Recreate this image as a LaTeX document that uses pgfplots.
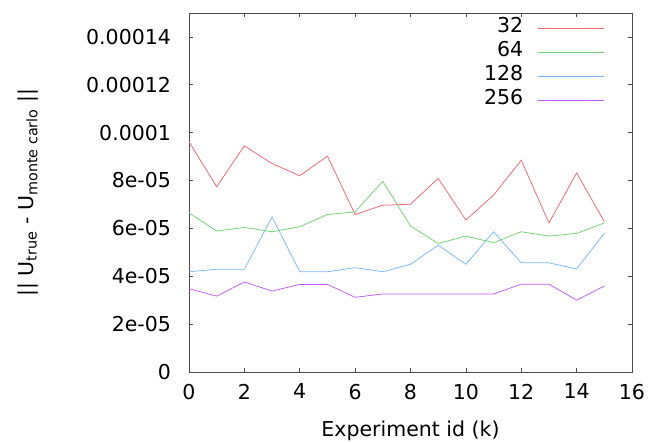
\documentclass[border=0pt]{standalone}
\usepackage{fontspec}
\setmainfont{DejaVu Sans}
\usepackage{pgfplots}
\pgfplotsset{compat=1.18}
\definecolor{c32}{RGB}{245,100,110}
\definecolor{c64}{RGB}{110,210,110}
\definecolor{c128}{RGB}{120,185,250}
\definecolor{c256}{RGB}{195,90,250}
\begin{document}
\fontsize{20.5}{24}\selectfont
\begin{tikzpicture}
\useasboundingbox (-189pt,-70pt) rectangle (461pt,372pt);
\begin{axis}[
  scale only axis,
  width=443pt, height=359pt,
  anchor=south west, at={(0,0)},
  xmin=0, xmax=16, ymin=0, ymax=0.00015,
  xtick={0,2,...,16},
  ytick={0,0.00002,0.00004,0.00006,0.00008,0.0001,0.00012,0.00014},
  yticklabels={0,2e-05,4e-05,6e-05,8e-05,0.0001,0.00012,0.00014},
  scaled y ticks=false,
  /pgf/number format/assume math mode=true,
  tick align=inside,
  major tick length=4pt,
  axis line style={black!70, line width=0.6pt},
  every tick/.style={black!70, line width=0.6pt},
  ticklabel style={font=\fontsize{20.5}{24}\selectfont},
  xticklabel style={yshift=-5pt},
  yticklabel style={xshift=-11pt},
  xlabel={Experiment id (k)},
  ylabel={|| U\textsubscript{true} - U\textsubscript{monte carlo} ||},
  every axis x label/.style={at={(axis description cs:0.5,-0.18)}, anchor=base, font=\fontsize{20.5}{24}\selectfont},
  every axis y label/.style={at={(axis description cs:-0.363,0.5)}, anchor=center, rotate=90, font=\fontsize{20.5}{24}\selectfont},
  legend cell align=right,
  legend plot pos=right,
  legend style={draw=none, fill=none, at={(0.937,0.989)}, anchor=north east,
    font=\fontsize{20.5}{24}\selectfont, row sep=9pt, column sep=14pt,
    inner sep=0pt,
    nodes={inner sep=0pt, text height=15pt, text depth=0pt}},
  legend image code/.code={\draw[#1] (0pt,-4pt) -- (66pt,-4pt);},
  every axis plot/.append style={line width=0.75pt},
]
\addplot[c32] coordinates {
(0,9.62e-5)(1,7.74e-5)(2,9.45e-5)(3,8.71e-5)(4,8.2e-5)(5,9.02e-5)(6,6.58e-5)(7,6.97e-5)
(8,7.01e-5)(9,8.09e-5)(10,6.35e-5)(11,7.39e-5)(12,8.85e-5)(13,6.23e-5)(14,8.32e-5)(15,6.28e-5)};
\addlegendentry{32}
\addplot[c64] coordinates {
(0,6.65e-5)(1,5.89e-5)(2,6.04e-5)(3,5.86e-5)(4,6.07e-5)(5,6.58e-5)(6,6.69e-5)(7,7.97e-5)
(8,6.1e-5)(9,5.37e-5)(10,5.68e-5)(11,5.4e-5)(12,5.86e-5)(13,5.68e-5)(14,5.79e-5)(15,6.23e-5)};
\addlegendentry{64}
\addplot[c128] coordinates {
(0,4.19e-5)(1,4.29e-5)(2,4.29e-5)(3,6.48e-5)(4,4.19e-5)(5,4.19e-5)(6,4.36e-5)(7,4.19e-5)
(8,4.5e-5)(9,5.3e-5)(10,4.5e-5)(11,5.86e-5)(12,4.56e-5)(13,4.56e-5)(14,4.31e-5)(15,5.79e-5)};
\addlegendentry{128}
\addplot[c256] coordinates {
(0,3.48e-5)(1,3.17e-5)(2,3.76e-5)(3,3.38e-5)(4,3.66e-5)(5,3.66e-5)(6,3.12e-5)(7,3.26e-5)
(8,3.26e-5)(9,3.26e-5)(10,3.26e-5)(11,3.26e-5)(12,3.67e-5)(13,3.67e-5)(14,3.0e-5)(15,3.59e-5)};
\addlegendentry{256}
\end{axis}
\end{tikzpicture}
\end{document}
